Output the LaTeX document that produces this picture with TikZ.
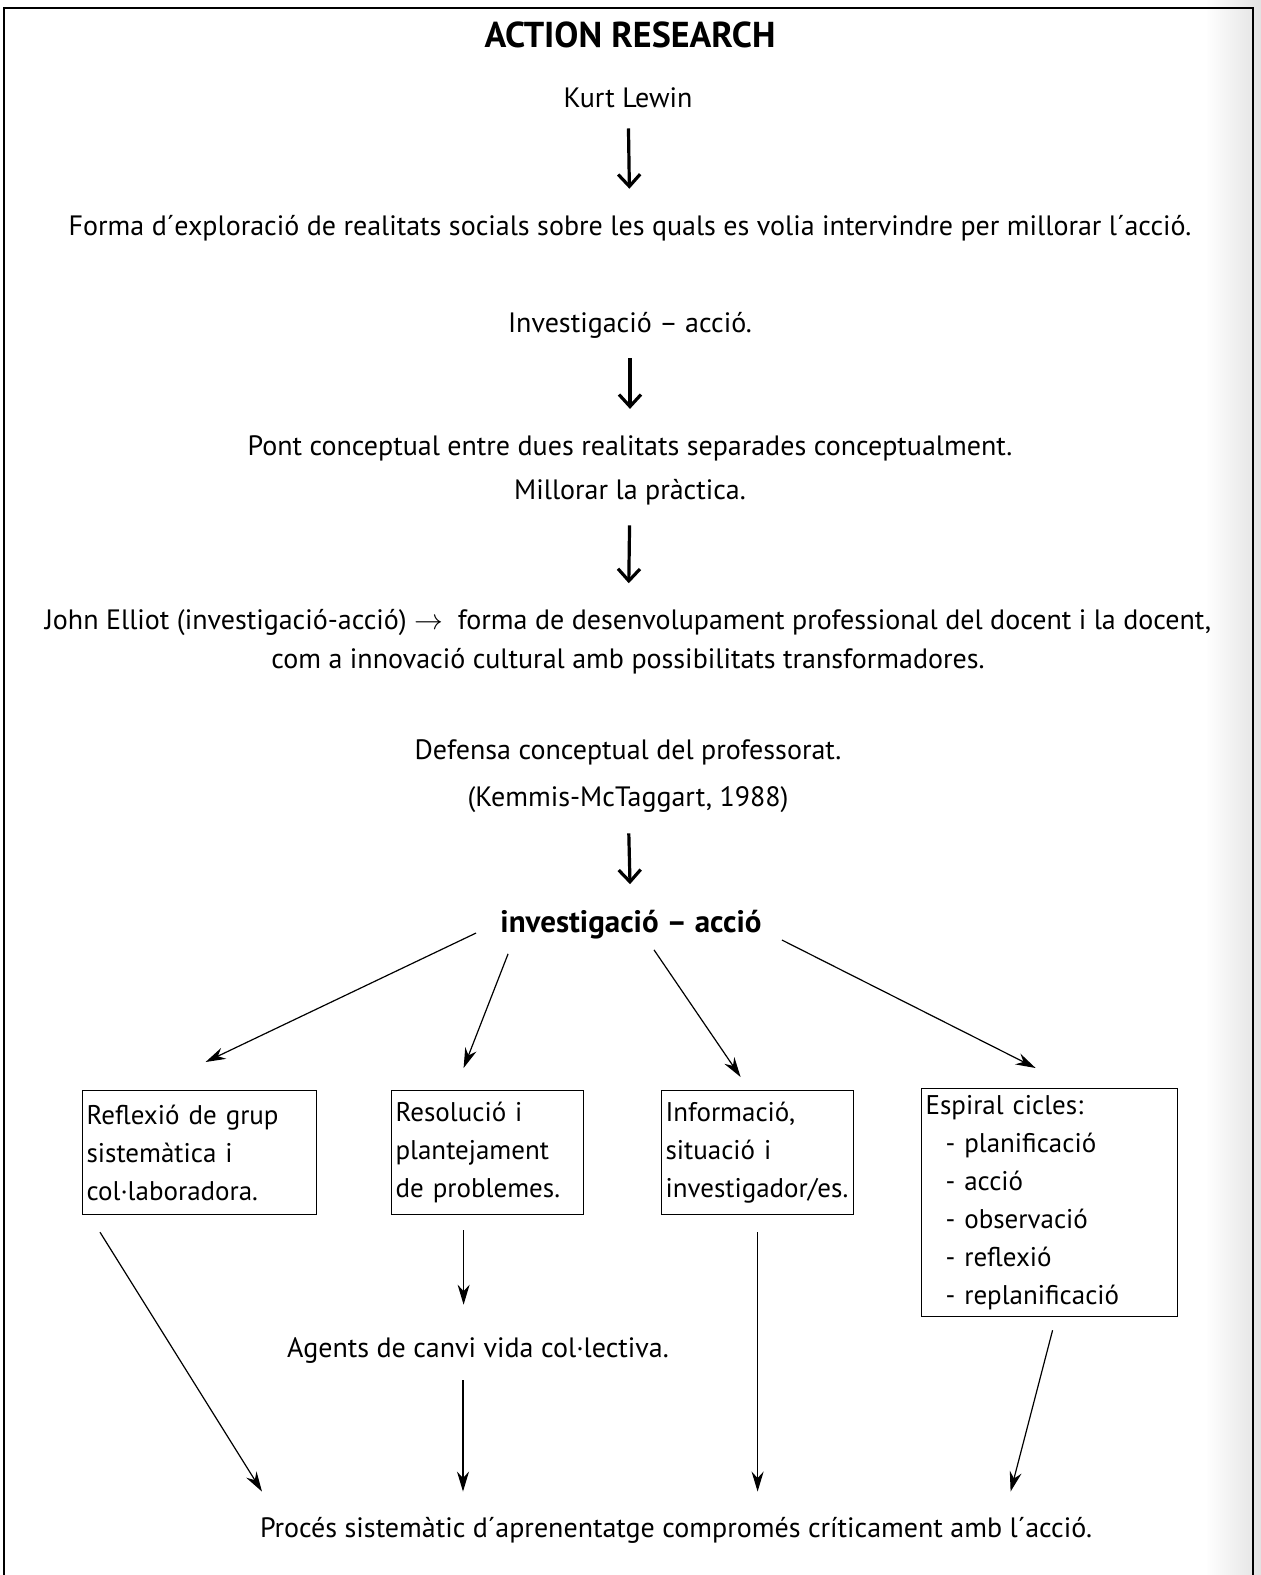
\documentclass[tikz,border=0pt]{standalone}
\usepackage{fontspec}
\setmainfont{PT Sans}
\usetikzlibrary{arrows.meta}

\begin{document}
\begin{tikzpicture}[x=0.5pt, y=-0.5pt,
    txt/.style={font=\fontsize{14}{19.5}\selectfont, inner sep=0pt, align=center},
    bigarrow/.style={line width=1.6pt, -{Straight Barb[length=6pt,width=11pt]}, shorten <=10pt, shorten >=13pt},
    fan/.style={line width=0.6pt, -{Stealth[length=10pt,width=6pt]}},
    box/.style={draw, line width=0.6pt, anchor=north west, align=left, font=\fontsize{13.5}{19}\selectfont, inner xsep=2pt, inner ysep=0pt}]
   \useasboundingbox (0,0) rectangle (1261,1575);
   % scan shadow and frame
   \shade[left color=white, right color=gray!22] (1205,0) rectangle (1261,1575);
   \draw[line width=0.8pt] (4,1575) -- (4,8) -- (1253,8) -- (1253,1575);

   \node[txt, font=\fontsize{18}{20}\selectfont\bfseries] (title) at (630,35) {ACTION RESEARCH};
   \node[txt] (lewin) at (628,98) {Kurt Lewin};
   \node[txt] (forma) at (630,228) {Forma d´exploració de realitats socials sobre les quals es volia intervindre per millorar l´acció.};
   \node[txt] (inv) at (630,325) {Investigació – acció.};
   \node[txt] (pont) at (630,448) {Pont conceptual entre dues realitats separades conceptualment.};
   \node[txt] (millorar) at (630,492) {Millorar la pràctica.};
   \node[txt] (elliot) at (628,642) {John Elliot (investigació-acció) $\rightarrow$\ \ forma de desenvolupament professional del docent i la docent,\\
      com a innovació cultural amb possibilitats transformadores.};
   \node[txt] (defensa) at (628,752) {Defensa conceptual del professorat.};
   \node[txt] (kemmis) at (628,800) {(Kemmis-McTaggart, 1988)};
   \node[txt, font=\fontsize{15.5}{18}\selectfont\bfseries] (ia) at (631,925) {investigació – acció};

   \foreach \a/\b in {lewin/forma, inv/pont, millorar/elliot, kemmis/ia}
     \draw[bigarrow] (\a) -- (\b);

   % the four boxes
   \node[box, text width=113pt, minimum height=62pt] (reflexio) at (82,1090) {Reflexió de grup\\ sistemàtica i\\ col·laboradora.};
   \node[box, text width=92pt, minimum height=62pt] (resolucio) at (391,1090) {Resolució i\\ plantejament\\ de problemes.};
   \node[box, text width=92pt, minimum height=62pt] (informacio) at (661,1090) {Informació,\\ situació i\\ investigador/es.};
   \node[box, text width=124pt, minimum height=114pt] (espiral) at (921,1088) {Espiral cicles:\\
      \hspace*{10pt}- planificació\\ \hspace*{10pt}- acció\\ \hspace*{10pt}- observació\\
      \hspace*{10pt}- reflexió\\ \hspace*{10pt}- replanificació};

   \draw[fan] ([xshift=-12pt,yshift=-4pt]ia.west) -- ([xshift=3pt,yshift=14pt]reflexio.north);
   \draw[fan] ([xshift=4pt,yshift=-7pt]ia.south west) -- ([xshift=-12pt,yshift=11pt]resolucio.north);
   \draw[fan] ([xshift=11.5pt,yshift=-5pt]ia.south) -- ([xshift=-8.5pt,yshift=6.5pt]informacio.north);
   \draw[fan] ([xshift=10pt,yshift=-7.5pt]ia.east) -- ([xshift=-7pt,yshift=10pt]espiral.north);

   \node[txt] (agents) at (478,1350) {Agents de canvi vida col·lectiva.};
   \node[txt] (proces) at (676,1530) {Procés sistemàtic d´aprenentatge compromés críticament amb l´acció.};

   \coordinate (e1) at ([xshift=90pt]reflexio.south west);
   \coordinate (e4) at ([xshift=-19.5pt]espiral.south);
   \draw[fan] ([xshift=9pt,yshift=-8.5pt]reflexio.south west) -- ([yshift=12.5pt]e1 |- proces.north);
   \draw[fan, shorten <=7.5pt, shorten >=16pt] ([xshift=-12pt]resolucio.south) -- ([xshift=-12pt]resolucio.south |- agents.north);
   \draw[fan, shorten <=8.5pt, shorten >=12.5pt] ([xshift=-7.5pt]agents.south) -- ([xshift=-7.5pt]agents.south |- proces.north);
   \draw[fan, shorten <=8.5pt, shorten >=12.5pt] (informacio.south) -- (informacio.south |- proces.north);
   \draw[fan] ([xshift=1.5pt,yshift=-6.5pt]espiral.south) -- ([yshift=12.5pt]e4 |- proces.north);
\end{tikzpicture}
\end{document}
